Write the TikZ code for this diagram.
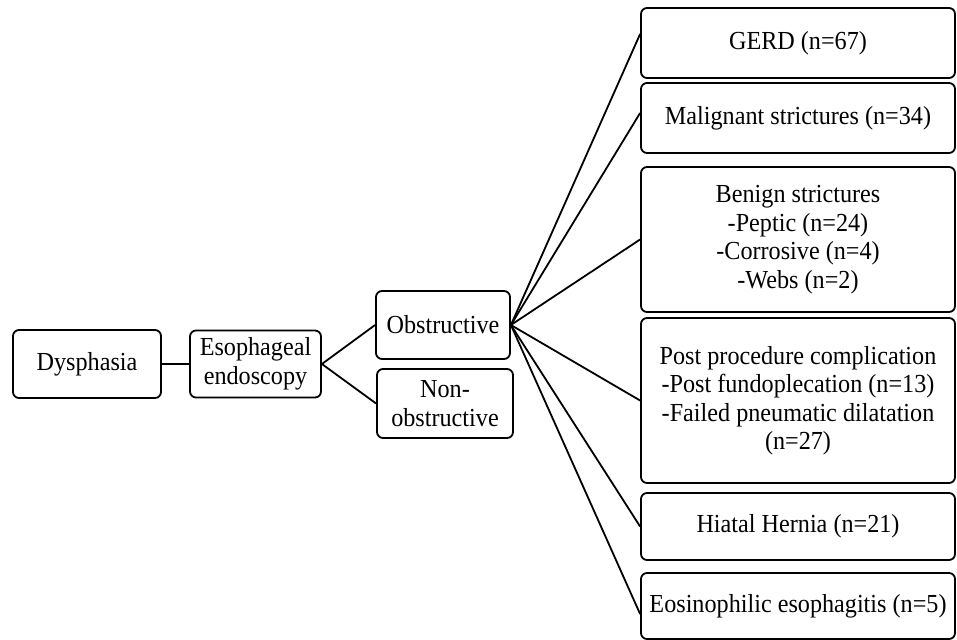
\documentclass[tikz,border=0pt]{standalone}
\usepackage{fontspec}
\setmainfont{Liberation Serif}[FakeStretch=0.93]
\begin{document}
\begin{tikzpicture}[x=1pt,y=-1pt,line width=1.8pt,
	box/.style={draw,rounded corners=6pt,align=center,inner sep=0pt,
		font=\fontsize{26}{28.5}\selectfont}]
	\useasboundingbox (0,0) rectangle (957,639);
	% cột trái
	\node[box,minimum width=148,minimum height=68] (dys) at (87,364) {Dysphasia};
	\node[box,minimum width=131,minimum height=67] (eso) at (255.5,364) {Esophageal\\endoscopy};
	\node[box,minimum width=134,minimum height=68] (obs) at (443,325) {Obstructive};
	\node[box,minimum width=136,minimum height=69] (non) at (445,403.5) {Non-\\obstructive};
	% cột phải
	\node[box,minimum width=314,minimum height=70] (gerd) at (798,43) {GERD (n=67)};
	\node[box,minimum width=314,minimum height=70] (mal) at (798,118) {Malignant strictures (n=34)};
	\node[box,minimum width=314,minimum height=145] (ben) at (798,239.5) {Benign strictures\\-Peptic (n=24)\\-Corrosive (n=4)\\-Webs (n=2)};
	\node[box,minimum width=314,minimum height=165] (post) at (798,400.5) {Post procedure complication\\-Post fundoplecation (n=13)\\-Failed pneumatic dilatation\\(n=27)};
	\node[box,minimum width=314,minimum height=67] (hia) at (798,526.5) {Hiatal Hernia (n=21)};
	\node[box,minimum width=314,minimum height=66] (eos) at (798,606) {Eosinophilic esophagitis (n=5)};
	\draw (dys) -- (eso);
	\draw (eso.east) -- (obs.west) (eso.east) -- (non.west);
	\draw (obs.east) -- ([yshift=9]gerd.west);
	\draw (obs.east) -- ([yshift=5]mal.west);
	\foreach \k in {ben,post,hia}
		\draw (obs.east) -- (\k.west);
	\draw (obs.east) -- ([yshift=-8]eos.west);
\end{tikzpicture}
\end{document}
